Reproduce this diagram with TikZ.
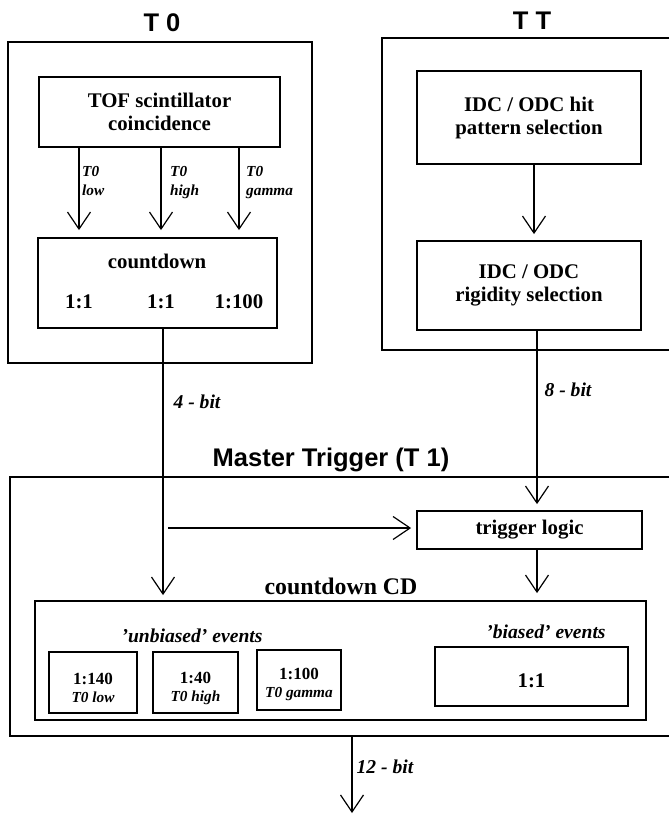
\documentclass[tikz,border=0pt]{standalone}
\usepackage{fontspec}
\setmainfont{Liberation Serif}
\newfontfamily\arialfont{Liberation Sans}
\usetikzlibrary{arrows.meta}

\newcommand\headfont{\arialfont\bfseries\fontsize{25.5}{28}\selectfont}
\newcommand\boxfont{\bfseries\fontsize{20.8}{23}\selectfont}
\newcommand\bitfont{\bfseries\itshape\fontsize{19.6}{22}\selectfont}
\newcommand\tzfont{\bfseries\itshape\fontsize{15.3}{19}\selectfont}
\newcommand\ratiofont{\bfseries\fontsize{17}{18}\selectfont}

\tikzset{
    frame/.style={line width=2.2pt},
    box/.style={draw, line width=1.8pt, inner sep=0pt, align=center, font=\boxfont},
    ratio/.style={align=center, inner sep=0pt, font=\ratiofont},
    arr/.style={line width=1.2pt, -{Straight Barb[length=17pt,width=23pt]}},
}

\begin{document}
\begin{tikzpicture}[x=1pt, y=-1pt]
    \useasboundingbox (0,0) rectangle (669,816);
    % This draws the three frames, the right side is cut off by the page.
        \draw[frame] (8,42) rectangle (312,363);
        \draw[frame] (669,38) -- (382,38) -- (382,350) -- (669,350);
        \draw[frame] (669,477) -- (10,477) -- (10,736) -- (669,736);
    % Titles of the frames.
        \node[font=\headfont, anchor=base] (tzero) at (162,32) {T 0};
        \node[font=\headfont, anchor=base] (ttt) at (532,30) {T T};
        \node[font=\headfont, anchor=base] (mtitle) at (331,466) {Master Trigger (T 1)};
    % T0 boxes.
        \node[box, minimum width=241pt, minimum height=70pt] (tof) at (159.5,112) {TOF scintillator\\coincidence};
        \node[box, minimum width=239pt, minimum height=90pt] (cdzero) at (157.5,283) {};
        \node[font=\boxfont, anchor=base] (cdname) at (157,268) {countdown};
        \node[font=\boxfont, anchor=base] (rlow) at (79,308) {1:1};
        \node[font=\boxfont, anchor=base] (rhigh) at (161,308) {1:1};
        \node[font=\boxfont, anchor=base] (rgam) at (239,308) {1:100};
    % The three T0 signals with their labels.
        \draw[arr, shorten >=7pt] (rlow |- tof.south) -- (rlow |- cdzero.north);
        \draw[arr, shorten >=7pt] (rhigh |- tof.south) -- (rhigh |- cdzero.north);
        \draw[arr, shorten >=7pt] (rgam |- tof.south) -- (rgam |- cdzero.north);
        \node[font=\tzfont, anchor=north west, align=left, inner sep=0pt] (llow) at (82,166) {T0\\low};
        \node[font=\tzfont, anchor=north west, align=left, inner sep=0pt] (lhigh) at (170,166) {T0\\high};
        \node[font=\tzfont, anchor=north west, align=left, inner sep=0pt] (lgam) at (246,166) {T0\\gamma};
    % TT boxes.
        \node[box, minimum width=224pt, minimum height=93pt] (hit) at (529,117.5) {IDC / ODC hit\\pattern selection};
        \node[box, minimum width=224pt, minimum height=89pt] (rigid) at (529,285.5) {IDC / ODC\\rigidity selection};
        \draw[arr, shorten >=6pt] ([xshift=5pt]hit.south) -- ([xshift=5pt]rigid.north);
    % Master trigger boxes.
        \node[box, minimum width=225pt, minimum height=38pt] (trig) at (529.5,530) {trigger logic};
        \node[box, minimum width=611pt, minimum height=119pt] (cdbox) at (340.5,660.5) {};
        \node[font=\bfseries\fontsize{23.8}{26}\selectfont, anchor=base] (cdtitle) at (341,594) {countdown CD};
        \node[font=\bitfont, anchor=base] (unb) at (192,642) {'unbiased' events};
        \node[font=\bitfont, anchor=base] (bia) at (546,638) {'biased' events};
    % The four scaler boxes, text a bit below the middle as in the original.
        \node[box, minimum width=88pt, minimum height=61pt] (dlow) at (93,682.5) {};
        \node[box, minimum width=85pt, minimum height=61pt] (dhigh) at (195.5,682.5) {};
        \node[box, minimum width=84pt, minimum height=60pt] (dgam) at (299,680) {};
        \node[box, minimum width=193pt, minimum height=59pt] (dbias) at (531.5,676.5) {};
        \node[ratio] (tlow) at ([yshift=-5pt]dlow.center) {1:140\\{\tzfont T0 low}};
        \node[ratio] (thigh) at ([yshift=-6pt]dhigh.center) {1:40\\{\tzfont T0 high}};
        \node[ratio] (tgam) at ([yshift=-4pt]dgam.center) {1:100\\{\tzfont T0 gamma}};
        \node[font=\boxfont] (tbias) at ([yshift=-4pt]dbias.center) {1:1};
    % The bit lines between the frames.
        \draw[arr, shorten >=5pt] ([xshift=5.5pt]cdzero.south) -- ([xshift=5.5pt]cdzero.south |- cdbox.north);
        \node[font=\bitfont, anchor=base] (fourbit) at (197,408) {4 - bit};
        \draw[arr, shorten >=6pt] ([xshift=8pt]rigid.south) -- ([xshift=8pt]rigid.south |- trig.north);
        \node[font=\bitfont, anchor=base] (eightbit) at (568,396) {8 - bit};
        \coordinate (hstart) at (168,528);
        \draw[arr, shorten >=5pt] (hstart) -- (trig.west |- hstart);
        \draw[arr, shorten >=7pt] ([xshift=7.5pt]trig.south) -- ([xshift=7.5pt]trig.south |- cdbox.north);
    % This draws the output of the master trigger.
        \coordinate (mbot) at (352,736);
        \coordinate (mout) at (352,813);
        \draw[arr] (mbot) -- (mout);
        \node[font=\bitfont, anchor=base] (twelvebit) at (385,773) {12 - bit};
\end{tikzpicture}
\end{document}
